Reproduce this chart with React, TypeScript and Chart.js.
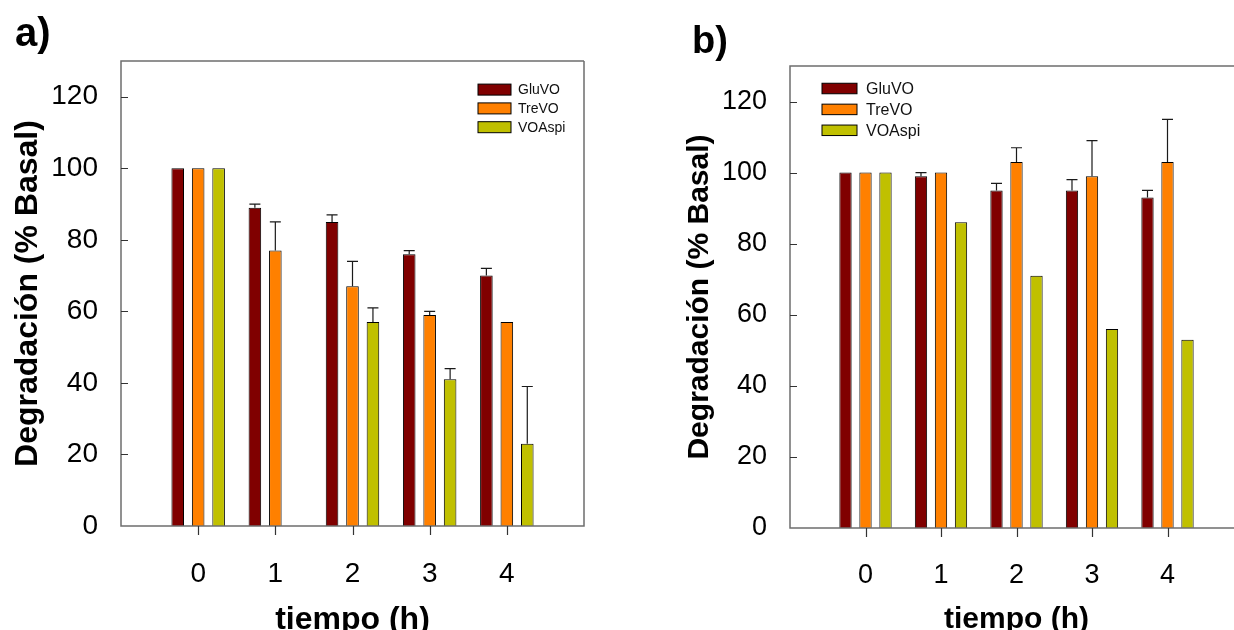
import React, { useEffect, useRef } from 'react';
import { Chart, registerables } from 'chart.js';

Chart.register(...registerables);

const FONT = '"Liberation Sans", Arial, Helvetica, sans-serif';

// ---- data ----
const timeLabels = ['0', '1', '2', '3', '4'];
const seriesNames = ['GluVO', 'TreVO', 'VOAspi'];
const seriesColors = ['#800000', '#FF8000', '#C0C000'];
const yTickValues = [0, 20, 40, 60, 80, 100, 120];

// panel a)
const gluA = [100, 89, 85, 76, 70];
const treA = [100, 77, 67, 59, 57];
const aspA = [100, null, 57, 41, 23];
const gluErrA = [0, 1, 2, 1, 2];
const treErrA = [0, 8, 7, 1, 0];
const aspErrA = [0, 0, 4, 3, 16];

// panel b)
const gluB = [100, 99, 95, 95, 93];
const treB = [100, 100, 103, 99, 103];
const aspB = [100, 86, 71, 56, 53];
const gluErrB = [0, 1, 2, 3, 2];
const treErrB = [0, 0, 4, 10, 12];
const aspErrB = [0, 0, 0, 0, 0];

const yTitle = 'Degradación (% Basal)';
const xTitle = 'tiempo (h)';

type Panel = {
  letter: string;
  letterX: number;
  letterBase: number;
  letterSize: number;
  values: (number | null)[][];
  errors: number[][];
  padTop: number;
  padRight: number;
  yAxisWidth: number;
  xAxisHeight: number;
  tickSize: number;
  titleSize: number;
  yTitlePad: number;
  xTitleShift: number;
  xTickPad: number;
  yTickPad: number;
  showRight: boolean;
  legend: { boxX: number; boxW: number; boxH: number; textX: number; firstY: number; gap: number; size: number };
};

const panelA: Panel = {
  letter: 'a)',
  letterX: 15,
  letterBase: 46,
  letterSize: 40,
  values: [gluA, treA, aspA],
  errors: [gluErrA, treErrA, aspErrA],
  padTop: 61,
  padRight: 33,
  yAxisWidth: 121,
  xAxisHeight: 104,
  tickSize: 28,
  titleSize: 32,
  yTitlePad: 12,
  xTitleShift: -6,
  xTickPad: 23,
  yTickPad: 15,
  showRight: true,
  legend: { boxX: 478, boxW: 33, boxH: 11, textX: 518, firstY: 89.6, gap: 18.8, size: 14 },
};

const panelB: Panel = {
  letter: 'b)',
  letterX: 72,
  letterBase: 53,
  letterSize: 38,
  values: [gluB, treB, aspB],
  errors: [gluErrB, treErrB, aspErrB],
  padTop: 66,
  padRight: 23,
  yAxisWidth: 170,
  xAxisHeight: 102,
  tickSize: 27,
  titleSize: 30,
  yTitlePad: 65,
  xTitleShift: -5,
  xTickPad: 23,
  yTickPad: 15,
  showRight: false,
  legend: { boxX: 202, boxW: 35, boxH: 10.5, textX: 246, firstY: 88.5, gap: 20.9, size: 16 },
};

function makeChart(canvas: HTMLCanvasElement, p: Panel) {
  const labels = ['', ...timeLabels, ''];
  const padArr = (arr: (number | null)[]) => [null, ...arr, null];

  const datasets = seriesNames.map((name, i) => ({
    label: name,
    data: padArr(p.values[i]),
    backgroundColor: seriesColors[i],
    borderColor: '#000000',
    borderWidth: 1,
    categoryPercentage: 0.795,
    barPercentage: 0.615,
  }));

  const decor = {
    id: 'decor',
    afterDatasetsDraw(chart: any) {
      const ctx = chart.ctx as CanvasRenderingContext2D;
      const { left, right, top, bottom } = chart.chartArea;
      const ys = chart.scales.y;
      const xs = chart.scales.x;
      ctx.save();

      // error bars (upper only)
      ctx.strokeStyle = '#1a1a1a';
      ctx.lineWidth = 1.2;
      p.errors.forEach((errs, di) => {
        const meta = chart.getDatasetMeta(di);
        errs.forEach((e, k) => {
          const v = p.values[di][k];
          if (!e || v == null) return;
          const el = meta.data[k + 1];
          if (!el) return;
          const x = el.x;
          const y0 = ys.getPixelForValue(v);
          const y1 = ys.getPixelForValue(v + e);
          const half = 5.5;
          ctx.beginPath();
          ctx.moveTo(x, y0);
          ctx.lineTo(x, y1);
          ctx.moveTo(x - half, y1);
          ctx.lineTo(x + half, y1);
          ctx.stroke();
        });
      });

      // frame
      ctx.strokeStyle = '#6e6e6e';
      ctx.lineWidth = 1.5;
      ctx.beginPath();
      ctx.moveTo(right, top);
      ctx.lineTo(left, top);
      ctx.lineTo(left, bottom);
      ctx.lineTo(right, bottom);
      if (p.showRight) ctx.lineTo(right, top);
      ctx.stroke();

      // y tick marks (inward)
      ctx.strokeStyle = '#333333';
      ctx.lineWidth = 1.2;
      ctx.beginPath();
      yTickValues.forEach((v) => {
        const y = Math.round(ys.getPixelForValue(v)) + 0.5;
        if (v === 0) return;
        ctx.moveTo(left, y);
        ctx.lineTo(left + 7, y);
      });
      // x tick marks (outward)
      timeLabels.forEach((_, k) => {
        const x = Math.round(xs.getPixelForValue(k + 1)) + 0.5;
        ctx.moveTo(x, bottom);
        ctx.lineTo(x, bottom + 9);
      });
      ctx.stroke();

      // legend
      const L = p.legend;
      ctx.font = `${L.size}px ${FONT}`;
      ctx.textBaseline = 'middle';
      ctx.textAlign = 'left';
      seriesNames.forEach((name, i) => {
        const cy = L.firstY + i * L.gap;
        ctx.fillStyle = seriesColors[i];
        ctx.fillRect(L.boxX, cy - L.boxH / 2, L.boxW, L.boxH);
        ctx.strokeStyle = '#000000';
        ctx.lineWidth = 1;
        ctx.strokeRect(L.boxX, cy - L.boxH / 2, L.boxW, L.boxH);
        ctx.fillStyle = '#111111';
        ctx.fillText(name, L.textX, cy + 1);
      });

      // panel letter
      ctx.font = `bold ${p.letterSize}px ${FONT}`;
      ctx.textBaseline = 'alphabetic';
      ctx.fillStyle = '#000000';
      ctx.fillText(p.letter, p.letterX, p.letterBase);

      ctx.restore();
    },
  };

  return new Chart(canvas, {
    type: 'bar',
    data: { labels, datasets: datasets as any },
    options: {
      responsive: false,
      animation: false,
      devicePixelRatio: 1,
      layout: { padding: { top: p.padTop, right: p.padRight, bottom: 0, left: 0 } },
      plugins: { legend: { display: false }, tooltip: { enabled: false }, title: { display: false } },
      scales: {
        x: {
          type: 'category',
          offset: false,
          grid: { display: false },
          border: { display: false },
          ticks: {
            autoSkip: false,
            maxRotation: 0,
            padding: p.xTickPad,
            color: '#000000',
            font: { family: FONT, size: p.tickSize },
          },
          title: {
            display: true,
            text: xTitle,
            color: '#000000',
            padding: { top: 0, bottom: p.xTitleShift },
            font: { family: FONT, size: p.titleSize, weight: 'bold', lineHeight: 1 },
          },
          afterFit: (s: any) => {
            s.height = p.xAxisHeight;
          },
        },
        y: {
          type: 'linear',
          min: 0,
          max: 130,
          grid: { display: false },
          border: { display: false },
          afterBuildTicks: (s: any) => {
            s.ticks = yTickValues.map((v) => ({ value: v }));
          },
          ticks: {
            padding: p.yTickPad,
            color: '#000000',
            font: { family: FONT, size: p.tickSize },
          },
          title: {
            display: true,
            text: yTitle,
            color: '#000000',
            padding: { top: p.yTitlePad, bottom: 0 },
            font: { family: FONT, size: p.titleSize, weight: 'bold', lineHeight: 1 },
          },
          afterFit: (s: any) => {
            s.width = p.yAxisWidth;
          },
        },
      },
    } as any,
    plugins: [decor],
  });
}

export default function App() {
  const refA = useRef<HTMLCanvasElement>(null);
  const refB = useRef<HTMLCanvasElement>(null);

  useEffect(() => {
    const a = makeChart(refA.current!, panelA);
    const b = makeChart(refB.current!, panelB);
    return () => {
      a.destroy();
      b.destroy();
    };
  }, []);

  return (
    <div
      style={{
        position: 'fixed',
        left: 0,
        top: 0,
        width: 1234,
        height: 630,
        overflow: 'hidden',
        background: '#ffffff',
      }}
    >
      <canvas ref={refA} width={617} height={630} style={{ position: 'absolute', left: 0, top: 0 }} />
      <canvas ref={refB} width={646} height={630} style={{ position: 'absolute', left: 620, top: 0 }} />
    </div>
  );
}
